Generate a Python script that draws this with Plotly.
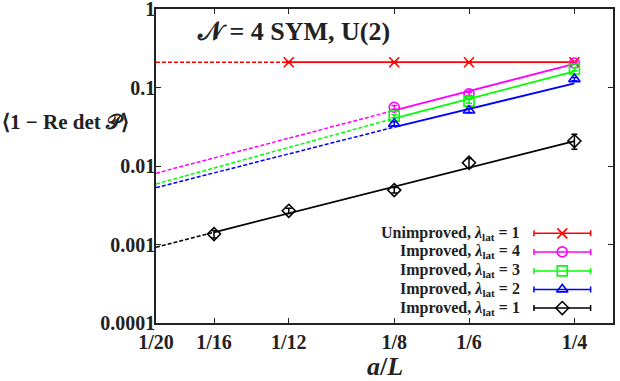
import plotly.graph_objects as go

# x axis: a/L
x_ticks = [1/20, 1/16, 1/12, 1/8, 1/6, 1/4]
x_labels = ["1/20", "1/16", "1/12", "1/8", "1/6", "1/4"]
y_ticks = [0.0001, 0.001, 0.01, 0.1, 1]
y_labels = ["0.0001", "0.001", "0.01", "0.1", "1"]

# measured points
unimp_x = [1/12, 1/8, 1/6, 1/4]
unimp_y = [0.21, 0.21, 0.21, 0.21]
unimp_err = [0.004, 0.003, 0.003, 0.004]

imp_x = [1/8, 1/6, 1/4]
imp4_y = [0.056, 0.083, 0.205]
imp4_err = [0.003, 0.004, 0.008]
imp3_y = [0.0432, 0.067, 0.172]
imp3_err = [0.002, 0.004, 0.008]
imp2_y = [0.0345, 0.051, 0.128]
imp2_err = [0.002, 0.003, 0.006]

imp1_x = [1/16, 1/12, 1/8, 1/6, 1/4]
imp1_y = [0.00136, 0.00269, 0.00493, 0.0110, 0.0208]
imp1_err = [0.00015, 0.0002, 0.0004, 0.0015, 0.0045]

# fit lines: value at 1/20, at start of fit range, at 1/4
fit_unimp = [0.21, 0.21, 0.21]
fit4 = [0.0081, 0.051, 0.20]
fit3 = [0.0059, 0.0404, 0.161]
fit2 = [0.0053, 0.0313, 0.113]
fit1 = [0.00092, 0.00143, 0.0208]

series = [
    ("Unimproved, <i>λ</i><sub>lat</sub> = 1", "#ff0000", "x-thin-open", unimp_x, unimp_y, unimp_err, fit_unimp),
    ("Improved, <i>λ</i><sub>lat</sub> = 4", "#ff00ff", "circle-open", imp_x, imp4_y, imp4_err, fit4),
    ("Improved, <i>λ</i><sub>lat</sub> = 3", "#00ff00", "square-open", imp_x, imp3_y, imp3_err, fit3),
    ("Improved, <i>λ</i><sub>lat</sub> = 2", "#0000ff", "triangle-up-open", imp_x, imp2_y, imp2_err, fit2),
    ("Improved, <i>λ</i><sub>lat</sub> = 1", "#000000", "diamond-open", imp1_x, imp1_y, imp1_err, fit1),
]

FONT = "Liberation Serif"

fig = go.Figure()
for name, col, sym, xs, ys, errs, fit in series:
    # extrapolation (dashed) and fit range (solid)
    fig.add_trace(go.Scatter(x=[x_ticks[0], xs[0]], y=fit[:2], mode="lines",
                             line=dict(color=col, width=1.5, dash="4px,2px"), showlegend=False))
    fig.add_trace(go.Scatter(x=[xs[0], x_ticks[-1]], y=fit[1:], mode="lines",
                             line=dict(color=col, width=1.8), showlegend=False))
    fig.add_trace(go.Scatter(x=xs, y=ys, mode="markers",
                             marker=dict(symbol=sym, size=10, color=col, line=dict(color=col, width=1.6)),
                             error_y=dict(type="data", array=errs, color=col, thickness=1.5, width=3),
                             showlegend=False))

# hand-made legend (text left, sample right) on an overlay axis
leg_rows = [0.2855, 0.2265, 0.166, 0.107, 0.0476]
for (name, col, sym, *_), ry in zip(series, leg_rows):
    fig.add_trace(go.Scatter(x=[0.889], y=[ry], xaxis="x2", yaxis="y2", mode="markers",
                             marker=dict(symbol=sym, size=10, color=col, line=dict(color=col, width=1.6)),
                             error_x=dict(type="constant", value=0.062, color=col, thickness=1.5, width=3),
                             showlegend=False, hoverinfo="skip"))
    fig.add_annotation(text="<b>" + name + "</b>", xref="paper", yref="paper", x=0.8, y=ry,
                       xanchor="right", yanchor="middle", showarrow=False,
                       font=dict(family=FONT, size=16, color="#222"))

fig.add_annotation(text="<b>𝒩 = 4 SYM, U(2)</b>", xref="paper", yref="paper", x=0.086, y=0.927,
                   xanchor="left", yanchor="middle", showarrow=False,
                   font=dict(family=FONT, size=26, color="#222"))
fig.add_annotation(text="<b>⟨1 − Re det 𝒫⟩</b>", xref="paper", yref="paper", x=-0.055, y=0.64,
                   xanchor="right", yanchor="middle", showarrow=False,
                   font=dict(family=FONT, size=21, color="#222"))
fig.add_annotation(text="<b><i>a</i>/<i>L</i></b>", xref="paper", yref="paper", x=0.5, y=-0.14,
                   xanchor="center", yanchor="middle", showarrow=False,
                   font=dict(family=FONT, size=26, color="#222"))

axis_common = dict(showline=True, linecolor="#222", linewidth=1.5, mirror="ticks", ticks="inside",
                   ticklen=5, tickcolor="#222", showgrid=False, zeroline=False,
                   ticklabeloverflow="allow", automargin=False,
                   tickfont=dict(family=FONT, size=20, color="#222", weight="bold"))
fig.update_layout(
    width=620, height=381, plot_bgcolor="white", paper_bgcolor="white",
    margin=dict(l=156, r=7, t=9, b=58),
    xaxis=dict(type="log", range=[-1.30103, -0.5376], tickvals=x_ticks, ticktext=x_labels, **axis_common),
    yaxis=dict(type="log", range=[-4, 0], tickvals=y_ticks, ticktext=y_labels,
               ticklabelstandoff=-5, **axis_common),
    xaxis2=dict(overlaying="x", range=[0, 1], visible=False),
    yaxis2=dict(overlaying="y", range=[0, 1], visible=False),
)

fig.write_html("out.html", config={"displayModeBar": False},
               post_script="document.body.style.margin='0';")
